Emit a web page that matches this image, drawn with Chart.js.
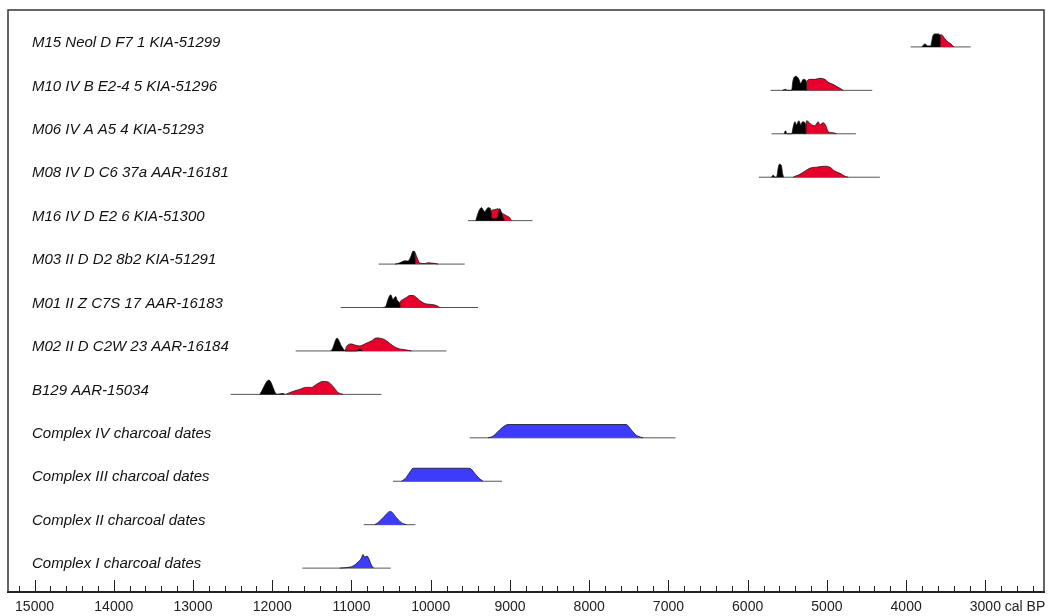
<!DOCTYPE html>
<html>
<head>
<meta charset="utf-8">
<title>Radiocarbon dates</title>
<script src="https://cdn.jsdelivr.net/npm/chart.js@4.4.1/dist/chart.umd.min.js"></script>
<style>
  html, body { margin: 0; padding: 0; background: #fff; }
  #wrap { width: 1052px; height: 616px; position: relative; }
</style>
</head>
<body>
<div id="wrap"><canvas id="chart"></canvas></div>
<script>
/* OxCal-style multiplot: one row per sample, cal BP axis running right to left */

const rowLabels = [
  "M15 Neol D F7 1 KIA-51299",
  "M10 IV B E2-4 5 KIA-51296",
  "M06 IV A A5 4 KIA-51293",
  "M08 IV D C6 37a AAR-16181",
  "M16 IV D E2 6 KIA-51300",
  "M03 II D D2 8b2 KIA-51291",
  "M01 II Z C7S 17 AAR-16183",
  "M02 II D C2W 23 AAR-16184",
  "B129 AAR-15034",
  "Complex IV charcoal dates",
  "Complex III charcoal dates",
  "Complex II charcoal dates",
  "Complex I charcoal dates",
];

// extent of the thin line under each row [older, younger] cal BP
const ranges = [
  [3943, 3186], [5711, 4428], [5698, 4634], [5859, 4331], [9529, 8716],
  [10657, 9571], [11136, 9403], [11705, 9802], [12525, 10623],
  [9508, 6911], [10476, 9100], [10846, 10193], [11620, 10505],
];

// [cal BP, probability height] — black distributions
const blackDist = [
  [[3801, 0], [3763, 3], [3725, 1], [3690, 1], [3678, 5], [3662, 11], [3637, 13], [3600, 13], [3573, 12], [3570, 0]],
  [[5560, 0], [5522, 1], [5500, 0], [5445, 0], [5430, 9], [5390, 14], [5360, 12], [5329, 7], [5300, 11], [5265, 10], [5257, 0]],
  [[5540, 0], [5522, 3], [5505, 0], [5445, 0], [5425, 7], [5404, 12], [5383, 9], [5354, 13], [5329, 9], [5307, 12], [5270, 10], [5265, 0]],
  [[5700, 0], [5678, 2], [5650, 0], [5635, 0], [5615, 9], [5600, 13], [5575, 12], [5560, 4], [5545, 0]],
  [[9432, 0], [9390, 10], [9360, 13], [9318, 9], [9277, 13], [9245, 12], [9234, 3], [9200, 2], [9150, 4], [9129, 12], [9107, 8], [9087, 3], [9070, 0]],
  [[10450, 0], [10413, 0.5], [10370, 2], [10328, 3.3], [10287, 3], [10265, 5], [10244, 9], [10223, 13], [10202, 10], [10195, 0]],
  [[10600, 0], [10568, 1], [10539, 8], [10505, 12.7], [10476, 8], [10442, 11], [10421, 7], [10392, 4], [10385, 0]],
  [[11260, 0], [11241, 2], [11183, 12.7], [11120, 4], [11073, 0], [10930, 0], [10897, 2], [10860, 0]],
  [[12160, 0], [12150, 1], [12042, 14.3], [11941, 0], [11865, 1], [11840, 0]],
];

// red distributions
const redDist = [
  [[3580, 0], [3573, 12], [3552, 12], [3510, 8], [3472, 5], [3435, 3], [3397, 0]],
  [[5262, 0], [5257, 8], [5215, 11], [5150, 11], [5089, 12], [5025, 11], [4984, 8], [4924, 6], [4878, 4], [4815, 1], [4794, 0]],
  [[5270, 0], [5257, 13], [5193, 9], [5152, 8], [5110, 12], [5089, 9], [5047, 11], [5013, 8], [4984, 2], [4921, 1], [4878, 0]],
  [[5426, 0], [5400, 1], [5363, 2], [5278, 6], [5215, 9], [5130, 10], [5025, 11], [4962, 10], [4899, 6], [4836, 4], [4773, 1], [4731, 0]],
  [[9250, 0], [9234, 10], [9192, 11], [9150, 12], [9129, 10], [9107, 8], [9044, 5], [9003, 3], [8981, 0]],
  [[10215, 0], [10211, 13], [10181, 8], [10160, 4], [10139, 1], [10076, 0.5], [10034, 1.3], [9991, 1], [9950, 0.7], [9908, 0]],
  [[10400, 0], [10392, 4], [10350, 8], [10307, 10], [10265, 12], [10223, 12], [10181, 10], [10139, 7], [10076, 4], [9991, 3], [9928, 2], [9886, 0]],
  [[11080, 0], [11065, 4], [11001, 7], [10960, 6], [10897, 5], [10833, 7], [10749, 10], [10686, 13], [10602, 12], [10539, 9], [10476, 5], [10392, 2], [10307, 1], [10244, 0]],
  [[11830, 0], [11802, 1], [11739, 3], [11654, 5], [11578, 7], [11506, 7], [11443, 10], [11360, 13], [11297, 12.5], [11234, 8], [11171, 2], [11107, 0]],
];

// blue charcoal phases (rows 9..12)
const blueDist = [
  [[9277, 0], [9230, 1], [9192, 3], [9129, 8], [9066, 12], [9024, 13.3], [7529, 13.3], [7500, 11], [7460, 7], [7420, 3.5], [7383, 1.5], [7320, 0]],
  [[10370, 0], [10340, 1.5], [10307, 4], [10256, 10], [10223, 13], [9508, 13], [9445, 8], [9390, 3], [9340, 0]],
  [[10707, 0], [10666, 2], [10602, 7], [10509, 13.3], [10433, 7], [10370, 2], [10307, 0]],
  [[11149, 0], [11065, 0.5], [10981, 2], [10918, 6], [10875, 10], [10855, 13.7], [10833, 11], [10804, 12], [10779, 9], [10749, 3], [10720, 0]],
];

const tickLabels = [15000, 14000, 13000, 12000, 11000, 10000, 9000, 8000, 7000, 6000, 5000, 4000, 3000];
const minorStep = 200;
const tickSpan = [15200, 2400];

const ROW_H = 43.43; // probability height units per row
const nRows = rowLabels.length;
const base = (i) => nRows - 1 - i;
const toPts = (arr, i) => arr.map(([x, h]) => ({ x, y: base(i) + h / ROW_H }));

const RED = "#e6002b";
const BLUE = "#3c3cfa";

const datasets = [];
ranges.forEach(([a, b], i) => {
  datasets.push({
    data: [{ x: a, y: base(i) }, { x: b, y: base(i) }],
    borderColor: "#555", borderWidth: 1, pointRadius: 0, fill: false, order: 4,
  });
});
const distSet = (arr, i, color, order) => ({
  data: toPts(arr, i),
  borderColor: "#151515", borderWidth: 0.8, backgroundColor: color,
  pointRadius: 0, fill: { value: base(i) }, cubicInterpolationMode: "monotone", order,
});
redDist.forEach((d, i) => datasets.push(distSet(d, i, RED, 2)));
blackDist.forEach((d, i) => datasets.push(distSet(d, i, "#000", 1)));
blueDist.forEach((d, j) => datasets.push(distSet(d, j + 9, BLUE, 2)));

const tickValues = [];
for (let v = tickSpan[0]; v >= tickSpan[1]; v -= minorStep) tickValues.push(v);

const AXIS_FONT = { size: 14, family: "'Liberation Sans', Arial, sans-serif" };
const LABEL_PAD = 7;

/* inward ticks, frame, row labels, "cal BP" */
const decor = {
  id: "decor",
  afterDraw(chart) {
    const { ctx, chartArea: ca, scales: { x, y } } = chart;
    ctx.save();
    ctx.strokeStyle = "#222";
    ctx.lineWidth = 1;
    x.ticks.forEach((t) => {
      const px = Math.round(x.getPixelForValue(t.value)) + 0.5;
      const len = tickLabels.includes(t.value) ? 12 : 6;
      ctx.beginPath();
      ctx.moveTo(px, ca.bottom);
      ctx.lineTo(px, ca.bottom - len);
      ctx.stroke();
    });

    ctx.strokeStyle = "#333";
    ctx.lineWidth = 1.5;
    ctx.beginPath();
    ctx.moveTo(ca.left, ca.bottom);
    ctx.lineTo(ca.left, ca.top);
    ctx.lineTo(ca.right, ca.top);
    ctx.lineTo(ca.right, ca.bottom);
    ctx.stroke();

    ctx.fillStyle = "#222";
    ctx.font = `${AXIS_FONT.size}px ${AXIS_FONT.family}`;
    ctx.textBaseline = "middle";
    ctx.textAlign = "left";
    const last = tickLabels[tickLabels.length - 1];
    const lx = x.getPixelForValue(last) + ctx.measureText(String(last)).width / 2 + ctx.measureText(" ").width;
    ctx.fillText("cal BP", lx, ca.bottom + LABEL_PAD + AXIS_FONT.size * 0.6);

    ctx.fillStyle = "#111";
    ctx.font = "italic 15px 'Liberation Sans', Arial, sans-serif";
    rowLabels.forEach((l, i) => {
      ctx.fillText(l, ca.left + 24, y.getPixelForValue(base(i)) - 4);
    });
    ctx.restore();
  },
};

new Chart(document.getElementById("chart"), {
  type: "line",
  data: { datasets },
  options: {
    responsive: true,
    maintainAspectRatio: false,
    animation: false,
    layout: { padding: { left: 8, right: 8, top: 10, bottom: 0 } },
    plugins: { legend: { display: false }, tooltip: { enabled: false } },
    scales: {
      x: {
        type: "linear",
        reverse: true,
        min: 2260,
        max: 15335,
        afterBuildTicks: (s) => { s.ticks = tickValues.map((v) => ({ value: v })); },
        afterFit: (s) => { s.height = 24; },
        grid: { display: false, drawTicks: false },
        border: { display: true, color: "#222", width: 2 },
        ticks: {
          autoSkip: false, maxRotation: 0, padding: LABEL_PAD, color: "#222", font: AXIS_FONT,
          callback: (v) => (tickLabels.includes(v) ? String(v) : ""),
        },
      },
      y: { display: false, min: -0.55, max: 12.85 },
    },
  },
  plugins: [decor],
});
</script>
</body>
</html>
